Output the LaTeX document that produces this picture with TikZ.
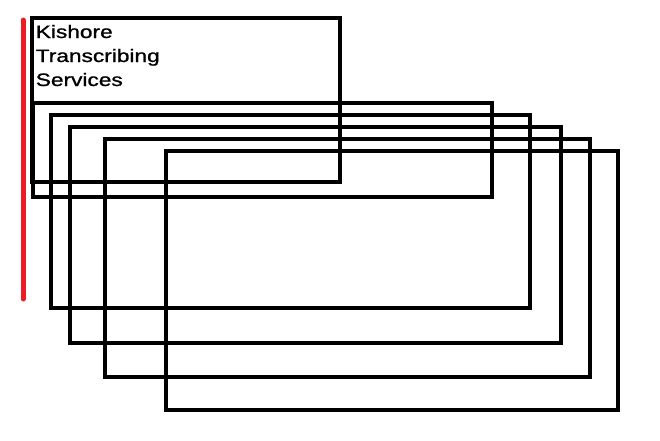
\documentclass[tikz,border=0pt]{standalone}
\usepackage{fontspec}
\setmainfont{Liberation Sans}
\newfontfamily\tenfont[FakeBold=1]{Liberation Sans}
\usepackage{xcolor}
\usetikzlibrary{positioning}
\definecolor{paintred}{RGB}{237,28,36}

\begin{document}
\begin{tikzpicture}[x=1pt, y=-1pt, line width=3.6pt]
    \useasboundingbox (0,0) rectangle (660,440);

    % Khung tiêu đề
    \draw (32,18) rectangle (340,182);
    \node[anchor=north west, inner sep=0pt,
          font=\tenfont\fontsize{18}{24}\selectfont] (ten) at (34,19.4)
        {\scalebox{1.26}[1]{\begin{tabular}{@{}l@{}}
            Kishore\\Transcribing\\Services
        \end{tabular}}};

    % Các khung chồng lên nhau
    \foreach \xa/\ya/\xb/\yb in {33/103/492/197, 51/115/530/308,
        70/127/561/343, 105/139/590/377, 166/151/618/410} {
        \draw (\xa,\ya) rectangle (\xb,\yb);
    }

    % Vạch đỏ bên trái
    \coordinate (dau) at (23,20);
    \coordinate (cuoi) at (23,299);
    \draw[paintred, line width=5pt, line cap=round] (dau) -- (cuoi);

\end{tikzpicture}
\end{document}
